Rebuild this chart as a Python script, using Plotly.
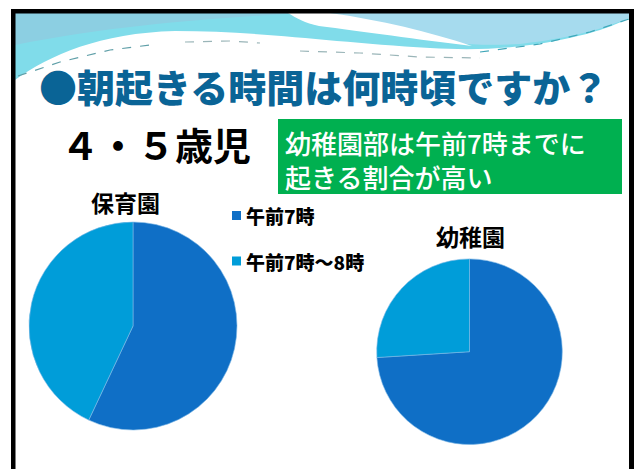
import plotly.graph_objects as go

# --- data -------------------------------------------------------------
categories = ["午前7時", "午前7時～8時"]
hoikuen_values = [57, 43]      # 保育園
youchien_values = [74, 26]     # 幼稚園
group_names = ["保育園", "幼稚園"]
slice_colors = ["#0F6FC6", "#009DD9"]

title_text = "●朝起きる時間は何時頃ですか？"
age_text = "４・５歳児"
note_lines = ["幼稚園部は午前7時までに", "起きる割合が高い"]

W, H = 639, 469
FONT = "Noto Sans CJK JP"


def fx(x):
    return x / W


def fy(y):
    return 1 - y / H


def path(cmds):
    """Build an SVG path in paper units from pixel-space commands."""
    out = []
    for c in cmds:
        if isinstance(c, str):
            out.append(c)
        else:
            out.append(f"{fx(c[0]):.5f},{fy(c[1]):.5f}")
    return " ".join(out)


fig = go.Figure()

# --- the two pies -------------------------------------------------------
fig.add_trace(go.Pie(
    labels=categories, values=hoikuen_values, name=group_names[0],
    sort=False, direction="clockwise", rotation=0,
    marker=dict(colors=slice_colors, line=dict(color="#7FB8E6", width=0.6)),
    textinfo="none", hoverinfo="label+percent",
    domain=dict(x=[fx(29), fx(237)], y=[fy(430), fy(222)]),
    showlegend=False,
))
fig.add_trace(go.Pie(
    labels=categories, values=youchien_values, name=group_names[1],
    sort=False, direction="clockwise", rotation=0,
    marker=dict(colors=slice_colors, line=dict(color="#7FB8E6", width=0.6)),
    textinfo="none", hoverinfo="label+percent",
    domain=dict(x=[fx(376.7), fx(562.3)], y=[fy(444.5), fy(258.9)]),
    showlegend=False,
))

shapes = []

# --- header wave --------------------------------------------------------
shapes.append(dict(
    type="path", xref="paper", yref="paper", layer="below",
    path=path(["M", (15, 80), "C", (50, 55), (100, 33), (175, 31),
               "C", (260, 31), (330, 42), (430, 48),
               "C", (480, 51), (520, 48), (560, 40),
               "C", (600, 32), (615, 25), (629, 18),
               "L", (629, 13), "L", (15, 13), "Z"]),
    fillcolor="#80DCEA", line=dict(width=0),
))
# softer band along the top edge on the left
shapes.append(dict(
    type="path", xref="paper", yref="paper", layer="below",
    path=path(["M", (15, 13), "L", (300, 13), "C", (220, 18), (120, 24), (15, 45), "Z"]),
    fillcolor="#8CCFE2", line=dict(width=0),
))
# lighter patch on the right
shapes.append(dict(
    type="path", xref="paper", yref="paper", layer="below",
    path=path(["M", (330, 13), "L", (629, 13), "L", (629, 18),
               "C", (600, 30), (570, 38), (520, 44),
               "C", (480, 46), (450, 44), (420, 38),
               "C", (400, 30), (370, 20), (330, 13), "Z"]),
    fillcolor="#A6DBEE", line=dict(width=0),
))
# white swoosh
shapes.append(dict(
    type="path", xref="paper", yref="paper", layer="below",
    path=path(["M", (288, 13), "L", (330, 13),
               "C", (380, 20), (430, 32), (472, 46),
               "C", (420, 40), (360, 31), (319, 26),
               "C", (305, 23), (296, 18), (288, 13), "Z"]),
    fillcolor="#FFFFFF", line=dict(width=0),
))
# decorative dashed strokes
for pts, col in [
    ([(18, 76), (60, 62), (110, 50), (150, 45)], "#5F9FA8"),
    ([(185, 42), (230, 41), (260, 43)], "#9AB5B8"),
    ([(300, 51), (360, 53), (420, 57), (480, 58)], "#9AB5B8"),
    ([(480, 52), (540, 44), (590, 32), (629, 19)], "#3FA6B8"),
]:
    d = ["M", pts[0]]
    for p in pts[1:]:
        d += ["L", p]
    shapes.append(dict(
        type="path", xref="paper", yref="paper", layer="below",
        path=path(d), line=dict(color=col, width=1.2, dash="dash"),
    ))

# --- green note box -----------------------------------------------------
shapes.append(dict(
    type="rect", xref="paper", yref="paper", layer="below",
    x0=fx(278), x1=fx(622), y0=fy(194), y1=fy(119),
    fillcolor="#00B050", line=dict(width=0),
))

# --- legend swatches ----------------------------------------------------
legend_rows_y = [215.5, 261]
for cy, col in zip(legend_rows_y, slice_colors):
    shapes.append(dict(
        type="rect", xref="paper", yref="paper",
        x0=fx(232), x1=fx(241), y0=fy(cy + 4.5), y1=fy(cy - 4.5),
        fillcolor=col, line=dict(width=0),
    ))

# --- slide frame (left, top, right bars) -------------------------------
for x0, y0, x1, y1 in [(11, 9, 15.5, H), (11, 9, 634, 13.5), (629, 9, 634, H)]:
    shapes.append(dict(
        type="rect", xref="paper", yref="paper", layer="above",
        x0=fx(x0), x1=fx(x1), y0=fy(y1), y1=fy(y0),
        fillcolor="#000000", line=dict(width=0),
    ))

annotations = []


def label(text, x, y, size, color="#000000", weight="bold", xanchor="center",
          align="center"):
    annotations.append(dict(
        text=text, x=fx(x), y=fy(y), xref="paper", yref="paper",
        xanchor=xanchor, yanchor="middle", showarrow=False, align=align,
        font=dict(family=FONT, size=size, color=color, weight=weight),
    ))


label(title_text, 37, 86, 38, color="#0A6496", weight=900, xanchor="left")
label(age_text, 156, 144, 38)
label("<br>".join(note_lines), 283, 159.5, 26, color="#FFFFFF", weight=500,
      xanchor="left", align="left")
label(group_names[0], 126, 202, 23)
label(group_names[1], 470, 236, 23)
for cy, name in zip(legend_rows_y, categories):
    label(name, 244, cy, 19, weight=900, xanchor="left")

fig.update_layout(
    width=W, height=H, autosize=False,
    margin=dict(l=0, r=0, t=0, b=0),
    paper_bgcolor="#FFFFFF", plot_bgcolor="#FFFFFF",
    shapes=shapes, annotations=annotations,
    showlegend=False,
)

fig.write_html("out.html")
